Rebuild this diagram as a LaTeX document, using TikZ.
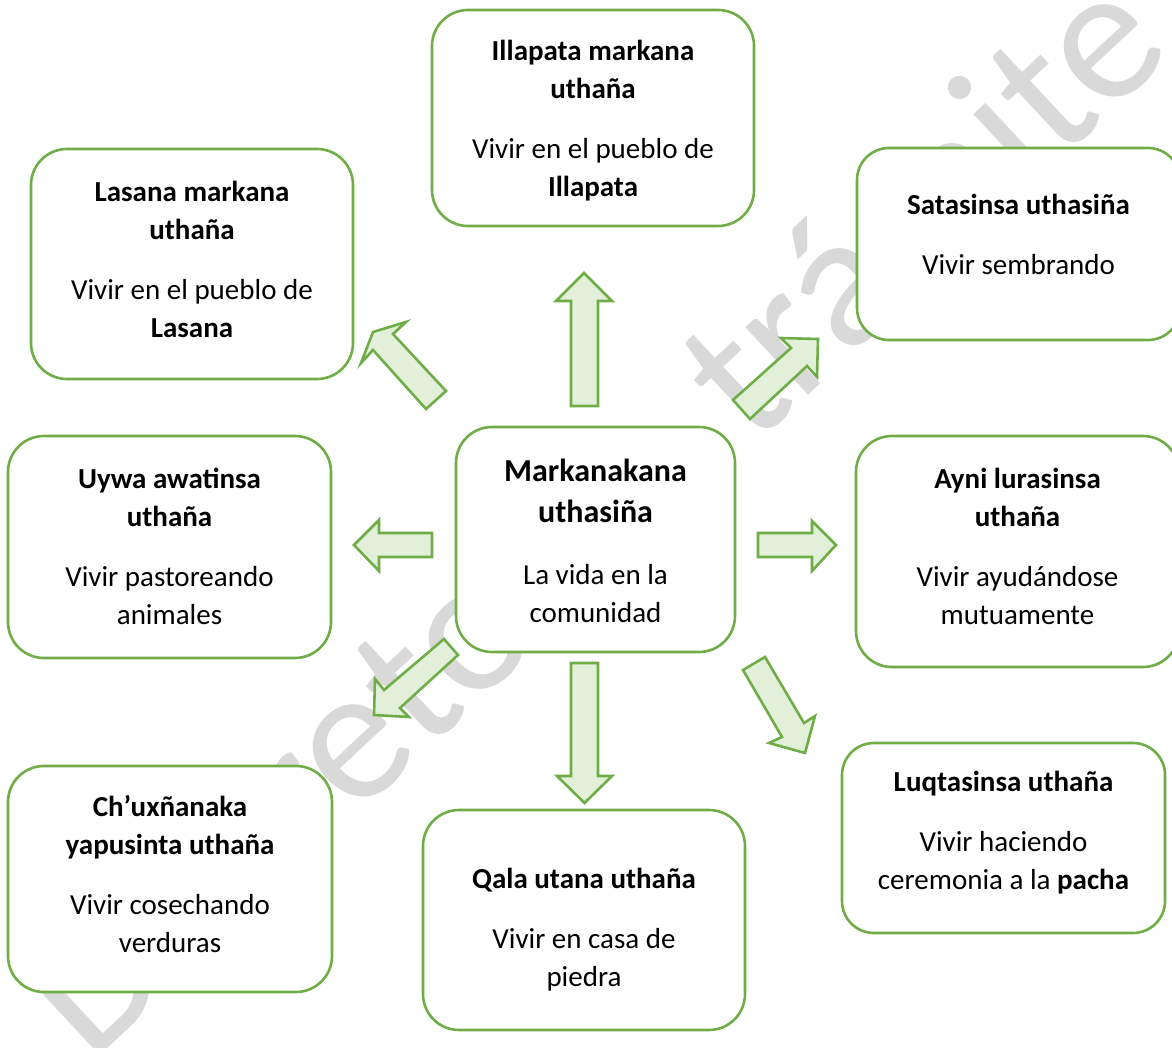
\documentclass[tikz,border=0pt]{standalone}
\usepackage{fontspec}
\setmainfont{Carlito}
\definecolor{leaf}{HTML}{70AD47}
\definecolor{leaffill}{HTML}{E2EFD9}
\definecolor{wmgray}{HTML}{D9D9D9}
\begin{document}
\begin{tikzpicture}[x=1pt,y=-1pt,
  card/.style={draw=leaf, line width=2.6pt, fill=white, rounded corners=36pt, inner sep=0pt},
  cardtext/.style={align=center, inner sep=0pt, font=\fontsize{29}{38}\selectfont},
  blockarrow/.style={draw=leaf, fill=leaffill, line width=2.6pt, line join=miter},
  wm/.style={text=wmgray, font=\fontsize{193}{193}\selectfont, inner sep=0pt}]

\useasboundingbox (0,0) rectangle (1172,1048);
\clip (0,0) rectangle (1172,1048);
\fill[white] (0,0) rectangle (1172,1048);

% watermark behind everything
\node[wm, rotate=43] (stamp) at (588,511) {Decreto en trámite};

% outer cards
\node[card, minimum width=322pt, minimum height=216pt] (ill) at (593,118) {};
\node[cardtext] (illtext) at ([yshift=-2.5pt]ill.center)
  {\textbf{Illapata markana}\\\textbf{uthaña}\\[22pt]Vivir en el pueblo de\\\textbf{Illapata}};

\node[card, minimum width=322pt, minimum height=230pt] (las) at (192,264) {};
\node[cardtext] (lastext) at ([yshift=5pt]las.center)
  {\textbf{Lasana markana}\\\textbf{uthaña}\\[22pt]Vivir en el pueblo de\\\textbf{Lasana}};

\node[card, rounded corners=32pt, minimum width=323pt, minimum height=192pt] (sat) at (1018.5,244) {};
\node[cardtext] (sattext) at ([yshift=9.5pt]sat.center)
  {\textbf{Satasinsa uthasiña}\\[22pt]Vivir sembrando};

\node[card, minimum width=323pt, minimum height=222pt] (uyw) at (169.5,547) {};
\node[cardtext] (uywtext) at ([yshift=1pt]uyw.center)
  {\textbf{Uywa awatinsa}\\\textbf{uthaña}\\[22pt]Vivir pastoreando\\animales};

\node[card, minimum width=323pt, minimum height=231pt] (ayn) at (1017.5,551.5) {};
\node[cardtext] (ayntext) at ([yshift=5pt]ayn.center)
  {\textbf{Ayni lurasinsa}\\\textbf{uthaña}\\[22pt]Vivir ayudándose\\mutuamente};

\node[card, minimum width=324pt, minimum height=226pt] (chu) at (170,879) {};
\node[cardtext] (chutext) at ([yshift=5pt]chu.center)
  {\textbf{Ch’uxñanaka}\\\textbf{yapusinta uthaña}\\[22pt]Vivir cosechando\\verduras};

\node[card, minimum width=322pt, minimum height=220pt] (qal) at (584,920) {};
\node[cardtext] (qaltext) at ([yshift=-10pt]qal.center)
  {\textbf{Qala utana uthaña}\\[22pt]Vivir en casa de\\piedra};

\node[card, rounded corners=32pt, minimum width=323pt, minimum height=190pt] (luq) at (1003.5,838) {};
\node[cardtext] (luqtext) at ([yshift=5pt]luq.center)
  {\textbf{Luqtasinsa uthaña}\\[22pt]Vivir haciendo\\ceremonia a la \textbf{pacha}};

% central card
\node[card, minimum width=279pt, minimum height=225pt] (mar) at (595.5,539.5) {};
\node[cardtext] (martext) at ([yshift=-1pt]mar.center)
  {{\fontsize{32}{41}\selectfont\textbf{Markanakana}}\\[3pt]{\fontsize{32}{41}\selectfont\textbf{uthasiña}}\\[24pt]La vida en la\\comunidad};

% block arrows pointing outwards from the centre
\draw[blockarrow] (571,406) -- (571,301) -- (556,301) -- (584,273) -- (612,301) -- (598,301) -- (598,406) -- cycle;
\draw[blockarrow] (571,663) -- (598,663) -- (598,776) -- (612,776) -- (584.5,803) -- (557,776) -- (571,776) -- cycle;
\draw[blockarrow] (432,533) -- (379,533) -- (379,520) -- (354,545) -- (379,571) -- (379,557) -- (432,557) -- cycle;
\draw[blockarrow] (758,533) -- (812,533) -- (812,521) -- (836,545) -- (812,571) -- (812,557) -- (758,557) -- cycle;
\draw[blockarrow] (446,391) -- (393,334) -- (406,322) -- (373,332) -- (361,363) -- (373,350) -- (426,409) -- cycle;
\draw[blockarrow] (733,400) -- (791,348) -- (781,338) -- (818,339) -- (817,377) -- (807,366) -- (750,419) -- cycle;
\draw[blockarrow] (444,639) -- (458,655) -- (400,708) -- (409,717) -- (374,715) -- (375,679) -- (384,690) -- cycle;
\draw[blockarrow] (743,670) -- (765,657) -- (804,723) -- (815,716) -- (805,753) -- (769,743) -- (782,737) -- cycle;
\end{tikzpicture}
\end{document}
